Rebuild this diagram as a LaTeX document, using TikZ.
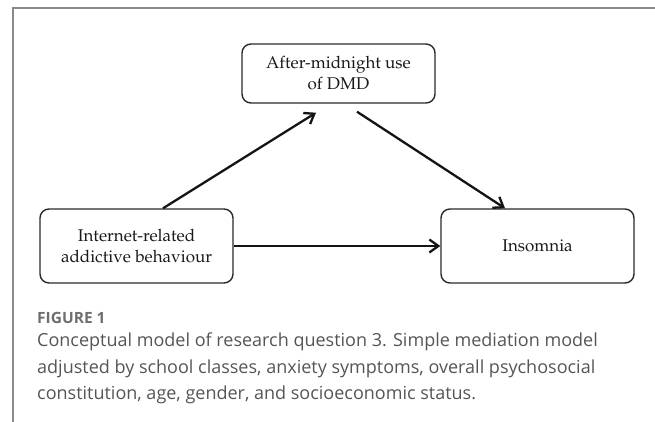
\documentclass[tikz,border=0pt]{standalone}
\usepackage[T1]{fontenc}
\usepackage{fontspec}
\newfontfamily\capfont{Open Sans}
\usetikzlibrary{arrows.meta}
\newcommand{\palfont}{\fontencoding{T1}\fontfamily{ppl}\fontseries{m}\fontshape{n}\fontsize{17}{21}\selectfont}
\definecolor{framegray}{HTML}{8A8A8A}
\definecolor{captext}{HTML}{555555}
\definecolor{figlabel}{HTML}{6E6E6E}
\definecolor{boxline}{HTML}{2A2A2A}
\tikzset{
  box/.style={draw=boxline, line width=1.4pt, rounded corners=9pt, minimum width=193pt,
    align=center, inner sep=0pt, font=\palfont, text=black!90},
  arr/.style={line width=2.3pt, draw=black!92, -{Straight Barb[length=9pt,width=13pt,line width=2.3pt]}},
}
\begin{document}
\begin{tikzpicture}[x=1pt,y=1pt]
\useasboundingbox (0,0) rectangle (655,-421);
\draw[framegray, line width=2pt] (13,-430) -- (13,-8) -- (670,-8);
\node[box, minimum height=59pt] (med) at (338.5,-73.5) {After-midnight use\\of DMD};
\node[box, minimum height=74pt] (iv) at (136.5,-246) {Internet-related\\addictive behaviour};
\node[box, minimum height=74pt] (dv) at (537.5,-246) {Insomnia};
\draw[arr] ([xshift=26.5pt]iv.north) -- ([xshift=-22.5pt,yshift=-9pt]med.south);
\draw[arr] ([xshift=18.5pt,yshift=-8pt]med.south) -- ([xshift=-32.5pt]dv.north);
\draw[arr] (iv.east) -- (dv.west);
\node[anchor=base west, inner sep=0pt, font=\capfont\bfseries\fontsize{15.5}{18}\selectfont, text=figlabel] (fig) at (37,-323) {FIGURE 1};
\node[anchor=north west, inner sep=0pt, align=left, font=\capfont\fontsize{18}{26.5}\selectfont, text=captext] (cap) at (37,-333)
  {Conceptual model of research question 3. Simple mediation model\\
   adjusted by school classes, anxiety symptoms, overall psychosocial\\
   constitution, age, gender, and socioeconomic status.};
\end{tikzpicture}
\end{document}
